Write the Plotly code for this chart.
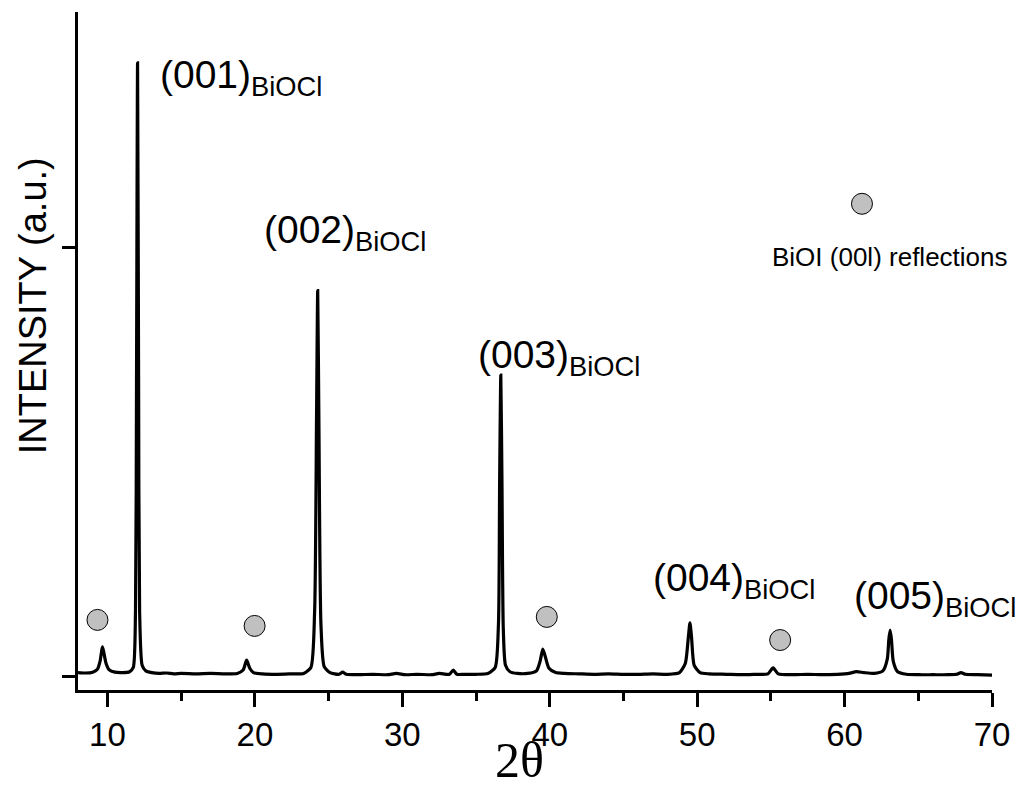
import plotly.graph_objects as go

# XRD pattern (2theta in degrees, intensity in arbitrary units)
two_theta = [8.0, 8.5, 9.0, 9.3, 9.5, 9.6, 9.66, 9.75, 9.9, 10.1, 10.5, 11.0, 11.5, 11.75, 11.9, 11.97,
             12.04, 12.11, 12.18, 12.35, 12.6, 13.0, 13.5, 14.0, 14.5, 15.0, 16.0, 17.0, 18.0, 18.8,
             19.2, 19.44, 19.65, 19.9, 20.5, 21.5, 22.5, 23.3, 23.8, 24.05, 24.18, 24.26, 24.34,
             24.48, 24.7, 25.1, 25.7, 25.95, 26.2, 27.0, 28.0, 29.0, 29.6, 30.2, 31.0, 32.0, 32.5,
             33.2, 33.46, 33.7, 34.2, 35.0, 35.8, 36.3, 36.52, 36.6, 36.68, 36.76, 36.85, 37.0,
             37.3, 37.8, 38.5, 39.1, 39.35, 39.53, 39.7, 39.95, 40.4, 41.0, 42.0, 43.0, 44.0, 45.0,
             46.0, 47.0, 48.0, 48.8, 49.2, 49.4, 49.51, 49.62, 49.8, 50.2, 50.8, 52.0, 53.0, 54.0,
             54.8, 55.15, 55.5, 56.5, 57.5, 58.5, 59.5, 60.3, 60.8, 61.3, 62.0, 62.6, 62.9, 63.0,
             63.09, 63.18, 63.3, 63.6, 64.2, 65.0, 66.0, 67.0, 67.6, 67.9, 68.2, 69.0, 70.0]
intensity = [0.008, 0.007, 0.009, 0.015, 0.035, 0.058, 0.068, 0.055, 0.03, 0.015, 0.009, 0.008, 0.010,
             0.020, 0.15, 0.70, 1.432, 0.70, 0.15, 0.025, 0.012, 0.008, 0.006, 0.007, 0.005, 0.006,
             0.005, 0.006, 0.005, 0.006, 0.014, 0.037, 0.018, 0.008, 0.005, 0.004, 0.005, 0.006,
             0.02, 0.15, 0.60, 0.90, 0.60, 0.12, 0.022, 0.008, 0.004, 0.009, 0.004, 0.003, 0.004,
             0.003, 0.006, 0.003, 0.004, 0.003, 0.006, 0.004, 0.014, 0.004, 0.004, 0.004, 0.006,
             0.02, 0.12, 0.45, 0.703, 0.45, 0.11, 0.025, 0.01, 0.006, 0.006, 0.012, 0.035, 0.063,
             0.045, 0.018, 0.008, 0.006, 0.005, 0.004, 0.005, 0.004, 0.004, 0.005, 0.004, 0.008,
             0.03, 0.09, 0.124, 0.09, 0.025, 0.008, 0.005, 0.004, 0.003, 0.004, 0.005, 0.019, 0.005,
             0.003, 0.004, 0.003, 0.004, 0.006, 0.010, 0.008, 0.006, 0.012, 0.04, 0.085, 0.107,
             0.085, 0.035, 0.01, 0.004, 0.003, 0.003, 0.003, 0.004, 0.008, 0.004, 0.003, 0.002]

# BiOI (00l) reflection markers
marker_x = [9.32, 19.98, 39.8, 55.63, 61.18]
marker_y = [0.131, 0.117, 0.138, 0.084, 1.103]

# BiOCl peak labels
label_text = ["(001)", "(002)", "(003)", "(004)", "(005)"]
label_x = [13.40, 20.46, 34.99, 46.87, 60.50]
label_y = [1.397, 1.035, 0.745, 0.224, 0.182]

x_ticks = [10, 20, 30, 40, 50, 60, 70]

fig = go.Figure()
fig.add_trace(go.Scatter(x=two_theta, y=intensity, mode="lines",
                         line=dict(color="black", width=3.2, shape="spline", smoothing=0.6),
                         showlegend=False, hoverinfo="skip"))
fig.add_trace(go.Scatter(x=marker_x, y=marker_y, mode="markers",
                         marker=dict(size=21, color="#c0c0c0", line=dict(color="black", width=1)),
                         showlegend=False, hoverinfo="skip"))

font_main = "Liberation Sans, Arial, sans-serif"
for t, x, y in zip(label_text, label_x, label_y):
    fig.add_annotation(x=x, y=y, text=t + "<sub>BiOCl</sub>", showarrow=False,
                       xanchor="left", yanchor="middle",
                       font=dict(family=font_main, size=39, color="black"))
fig.add_annotation(x=54.93, y=0.979, text="BiOI (00l) reflections", showarrow=False,
                   xanchor="left", yanchor="middle",
                   font=dict(family=font_main, size=26, color="black"))

# axis titles placed as in the reference
fig.add_annotation(xref="paper", yref="paper", x=-0.0492, y=0.566, text="INTENSITY (a.u.)",
                   textangle=-90, showarrow=False, xanchor="center", yanchor="middle",
                   font=dict(family=font_main, size=38, color="black"))
fig.add_annotation(xref="paper", yref="paper", x=0.4830, y=-0.1475, text="2θ",
                   showarrow=False, xanchor="center", yanchor="bottom",
                   font=dict(family="Liberation Serif, Times New Roman, serif", size=50, color="black"))

fig.update_layout(
    width=1011, height=782,
    margin=dict(l=70, r=27, t=4, b=100),
    paper_bgcolor="white", plot_bgcolor="white",
    font=dict(family=font_main, color="black"),
    xaxis=dict(range=[8, 70], tickvals=x_ticks, showline=True, linewidth=2.5, linecolor="black",
               ticks="outside", ticklen=14, tickwidth=2.5, tickcolor="black",
               minor=dict(dtick=5, tick0=5, ticks="outside", ticklen=8, tickwidth=2.5, tickcolor="black"),
               showgrid=False, zeroline=False,
               tickfont=dict(size=33, family=font_main)),
    yaxis=dict(range=[-0.0327, 1.551], tickvals=[0, 1], showticklabels=False, showline=True,
               linewidth=2.5, linecolor="black", ticks="outside", ticklen=13, tickwidth=2.5,
               tickcolor="black", showgrid=False, zeroline=False),
)

fig.write_html("out.html")
